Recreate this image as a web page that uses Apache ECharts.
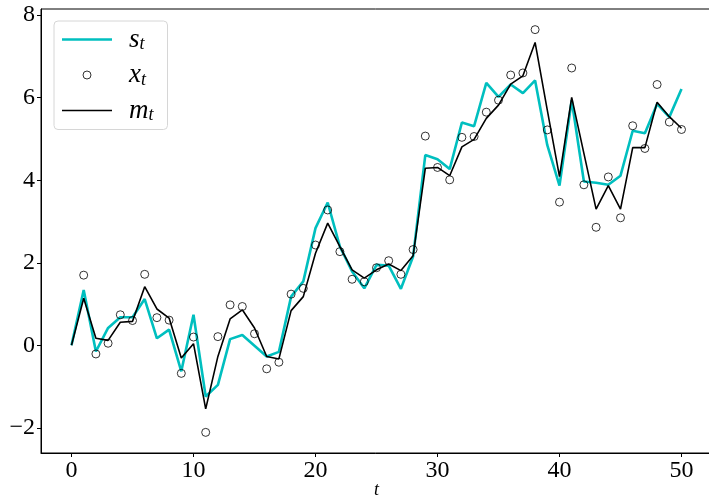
<!DOCTYPE html>
<html>
<head>
<meta charset="utf-8">
<script src="https://cdn.jsdelivr.net/npm/echarts@6/dist/echarts.min.js"></script>
<style>
  html, body { margin: 0; padding: 0; background: #fff; }
  #chart { width: 709px; height: 495px; }
</style>
</head>
<body>
<div id="chart"></div>
<script>
// t = 0..50
const sVals = [0, 1.34, -0.15, 0.42, 0.68, 0.68, 1.12, 0.17, 0.38, -0.63, 0.74,
  -1.24, -0.96, 0.15, 0.25, -0.01, -0.27, -0.16, 1.18, 1.55, 2.84,
  3.46, 2.39, 1.79, 1.38, 1.95, 1.93, 1.37, 2.15, 4.61, 4.51,
  4.27, 5.40, 5.31, 6.36, 6.02, 6.32, 6.11, 6.42, 4.85, 3.87,
  5.94, 3.97, 3.94, 3.89, 4.11, 5.20, 5.14, 5.85, 5.53, 6.21];
const xVals = [null, 1.70, -0.21, 0.05, 0.74, 0.60, 1.72, 0.67, 0.61, -0.68, 0.20,
  -2.11, 0.21, 0.98, 0.94, 0.28, -0.57, -0.41, 1.24, 1.38, 2.43,
  3.28, 2.27, 1.60, 1.54, 1.88, 2.05, 1.72, 2.32, 5.07, 4.31,
  4.01, 5.04, 5.06, 5.65, 5.94, 6.55, 6.60, 7.65, 5.22, 3.47,
  6.72, 3.89, 2.86, 4.08, 3.09, 5.32, 4.77, 6.32, 5.41, 5.23];
const mVals = [0, 1.14, 0.17, 0.12, 0.56, 0.58, 1.42, 0.88, 0.66, -0.31, 0.04,
  -1.54, -0.27, 0.64, 0.86, 0.42, -0.27, -0.33, 0.84, 1.18, 2.23,
  2.96, 2.39, 1.83, 1.63, 1.83, 1.97, 1.81, 2.17, 4.29, 4.31,
  4.11, 4.81, 4.99, 5.50, 5.82, 6.33, 6.53, 7.34, 5.70, 4.09,
  6.01, 4.65, 3.30, 3.87, 3.30, 4.79, 4.79, 5.89, 5.54, 5.26];
const xTicks = [0, 10, 20, 30, 40, 50];
const yTicks = [-2, 0, 2, 4, 6, 8];

const toPairs = arr => arr.map((v, i) => [i, v]).filter(p => p[1] !== null);

const chart = echarts.init(document.getElementById("chart"));
const fontFam = "'Liberation Serif', 'DejaVu Serif', serif";

let option = {
  animation: false,
  grid: {
    left: 41,
    right: -3,
    top: 9,
    bottom: 42,
    outerBoundsMode: "none",
    containLabel: false,
    show: true,
    borderColor: "#000",
    borderWidth: 1
  },
  legend: {
    left: 54,
    top: 21,
    orient: "vertical",
    itemWidth: 50,
    itemHeight: 8,
    itemGap: 8,
    padding: [5, 14, 5, 8],
    borderColor: "#d6d6d6",
    borderWidth: 1,
    borderRadius: 4,
    data: [
      { name: "s", icon: "path://M0,0L50,0L50,2.6L0,2.6Z", itemStyle: { borderWidth: 0 } },
      { name: "x", icon: "circle", itemStyle: { color: "rgba(0,0,0,0)", borderColor: "#000", borderWidth: 1 } },
      { name: "m", icon: "path://M0,0L50,0L50,1.6L0,1.6Z", itemStyle: { borderWidth: 0 } }
    ],
    formatter: name => "{v|" + name + "}{sub|t}",
    textStyle: {
      rich: {
        v: { fontFamily: fontFam, fontStyle: "italic", fontSize: 27, color: "#000", padding: [0, 0, 0, 12] },
        sub: { fontFamily: fontFam, fontStyle: "italic", fontSize: 18, color: "#000", verticalAlign: "bottom", padding: [10, 0, 0, 0] }
      }
    }
  },
  xAxis: {
    type: "value",
    min: -2.5,
    max: 52.5,
    name: "t",
    nameLocation: "middle",
    nameGap: 28,
    nameMoveOverlap: false,
    nameTextStyle: { fontFamily: fontFam, fontStyle: "italic", fontSize: 18, color: "#000" },
    splitLine: { show: false },
    axisLine: { onZero: false, lineStyle: { color: "#000" } },
    axisTick: { customValues: xTicks, length: 4, lineStyle: { color: "#000" } },
    axisLabel: { customValues: xTicks, fontFamily: fontFam, fontSize: 24, color: "#000", margin: 6 }
  },
  yAxis: {
    type: "value",
    min: -2.61,
    max: 8.15,
    splitLine: { show: false },
    axisLine: { show: true, onZero: false, lineStyle: { color: "#000" } },
    axisTick: { show: true, customValues: yTicks, length: 4, lineStyle: { color: "#000" } },
    axisLabel: {
      customValues: yTicks,
      fontFamily: fontFam,
      fontSize: 24,
      color: "#000",
      margin: 6,
      formatter: v => (v < 0 ? "\u2212" + Math.abs(v) : String(v))
    }
  },
  series: [
    {
      name: "s",
      type: "line",
      data: toPairs(sVals),
      symbol: "none",
      lineStyle: { color: "#00bfbf", width: 2.6 },
      itemStyle: { color: "#00bfbf" },
      z: 2
    },
    {
      name: "x",
      type: "scatter",
      data: toPairs(xVals),
      symbol: "circle",
      symbolSize: 8,
      itemStyle: { color: "rgba(0,0,0,0)", borderColor: "#000", borderWidth: 1 },
      z: 4
    },
    {
      name: "m",
      type: "line",
      data: toPairs(mVals),
      symbol: "none",
      lineStyle: { color: "#000", width: 1.6 },
      itemStyle: { color: "#000" },
      z: 3
    }
  ]
};
chart.setOption(option);
</script>
</body>
</html>
